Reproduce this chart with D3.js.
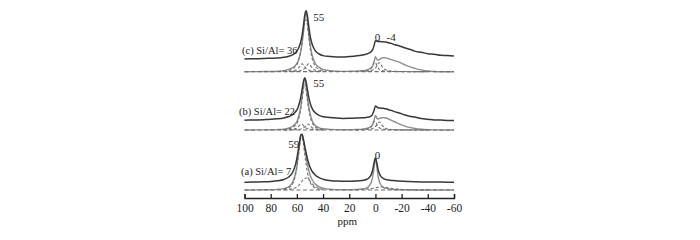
<!DOCTYPE html>
<html>
<head>
<meta charset="utf-8">
<script src="https://cdn.jsdelivr.net/npm/d3@7"></script>
<style>
  html, body { margin: 0; padding: 0; background: #fff; }
  svg { display: block; }
  text { font-family: "Liberation Serif", "DejaVu Serif", serif; fill: #222; }
</style>
</head>
<body>
<div id="chart"></div>
<script>
// ---------- data ----------
const ppm = [100,95,90,85,80,75,70,66,63,61,
             60,59,58,57,56,55,54,53,52,51,
             50,49,48,46,43,40,35,30,25,20,
             15,10,7,5,3,2,1,0,-1,-2,
             -3,-4,-5,-6,-7,-8,-10,-12,-15,-18,
             -22,-26,-30,-35,-40,-45,-50,-55,-60];
const peakGrid = [70,66,63,61,60,59,58,57,56,55,54,53,52,51,50,49,48,46,43,40];
const zeroGrid = [15,10,7,5,3,2,1,0,-1,-2,-3,-4,-5,-6,-7,-8,-10,-12,-15,-18,-22,-26,-30,-35,-40];
const xTicks = [100,80,60,40,20,0,-20,-40,-60];
const xTickLabels = ["100","80","60","40","20","0","-20","-40","-60"];

// (a) Si/Al = 7
const expA = [.31,.39,.52,.71,1.04,1.65,3.0,5.7,10.8,18.1,
              24,31.8,40.6,47.5,48.2,43.2,36.7,30,24,19.3,
              15.5,12.7,10.5,7.5,4.8,3.3,2.0,1.4,1.3,1.35,
              1.5,2.1,3.0,4.6,8.6,13,20,24.6,20.1,13.2,
              8.9,6.3,5.0,4.0,3.4,3.0,2.5,2.1,1.8,1.5,
              1.15,.9,.75,.6,.5,.45,.4,.35,.3];
const fitA = [0,.05,.1,.2,.3,.6,1.4,3.5,8.5,17,
              24,34,45,54,55,49,41,33,26,20,
              15.5,12,9.5,6,3.2,1.8,.8,.4,.3,.3,
              .5,1,2,3.8,8.5,14,23,32,24,14,
              8.5,5.5,3.8,2.7,2,1.6,1,.7,.4,.25,
              .15,.1,.05,0,0,0,0,0,0];
const compA1 = [.8,2.5,7,15,22,32,43,52,53,46,36,26,18,12,8,5.5,4,2.2,1,.5];
const compA2 = [.35,.8,1.4,2.2,2.9,3.9,5.3,7.1,9,10.6,11.5,12,11.7,10.6,9,7.3,5.7,3.5,1.5,.65];
const compA3 = [.41,.66,.92,1.17,1.5,1.7,1.92,2.16,2.4,2.63,2.82,2.95,3,2.95,2.82,2.63,2.16,1.7,1.17,.82,.54,.38,.28,.2,.15];

// (b) Si/Al = 22
const expB = [.53,.65,.81,1.05,1.37,1.9,2.8,4.2,6.3,8.9,
              10.9,13.8,17.9,23.6,31.3,39,42.7,39.2,31.5,23.9,
              18.3,14.2,11.4,8,5.4,4,3.2,2.6,2.3,2.4,
              2.7,2.9,3.3,3.7,5,7,10.5,14.8,13.8,12.9,
              12.6,12.6,12.3,12.4,12.0,11.9,11,10.3,8.8,7.7,
              6.0,4.5,3.6,2.2,1.5,0.7,0.6,0.3,0.3];
const fitB = [0,.05,.1,.15,.25,.4,.8,2,4,6.5,
              8.5,12,17,24,34,45,52,45,34,24,
              17,12,8.5,4.5,2.2,1.2,.6,.35,.25,.3,
              .5,.9,1.5,2.3,4,6,10,14.5,12,11,
              11.5,12,12.3,12.4,12.3,12,11,9.8,8,6.2,
              4.2,2.6,1.5,.7,.3,.1,0,0,0];
const compB1 = [.4,1.2,2.8,4.8,6.5,9.5,14,21,30,40,46,40,30,21,14,9.5,6.5,3.2,1.4,.7];
const compB2 = [.2,.39,.78,1.41,2.03,3,4.4,5.77,5.77,4.4,3,2.03,1.41,1.03,.78,.6,.48,.32,.2,.13];
const compB3 = [.11,.17,.27,.39,.48,.6,.78,1.03,1.41,2.03,3,4.4,5.77,5.77,4.4,3,2.03,1.03,.48,.27];
const compB4 = [.17,.38,.78,1.5,3.5,5.8,8.5,8.5,5.8,3.5,2.2,1.5,1.05,.78,.6,.47,.31,.22,.15,.1,.07,.05,.04,.03,.02];
const compB5 = [.15,.29,.47,.71,1.2,1.6,2.2,3.3,4.9,6.9,8,6.9,4.9,3.3,2.2,1.6,.9,.57,.33,.2,.14,.09,.07,.05,.03];

// (c) Si/Al = 36
const expC = [.4,.6,.5,.8,1.1,1.3,2.0,3.1,4.7,6.7,
              8.2,10.3,13.5,17.8,24.2,33.5,44,48.6,43.8,33.6,
              24.4,18,13.9,8.7,5.3,3.7,2.8,2.3,2.3,2.8,
              3.4,4.3,5.2,6.2,8,10,14,18.6,18.2,17.8,
              17.7,17.9,17.4,17.6,17.3,17.3,16.5,15.9,14.5,13.6,
              11.6,10.1,8.2,7.0,5.6,5.0,4.0,3.8,3.2];
const fitC = [0,.05,.1,.15,.25,.5,1.0,2.5,4.3,6.5,
              8.3,11,15,20.5,28.5,39,52,60,52,39,
              28.5,20.5,15,8.3,4.3,2.3,1.0,.5,.35,.4,
              .6,1.0,1.6,2.6,4.2,6,10,15,12.5,11.5,
              12.2,13,13.6,14,14,13.8,13,12,10.8,9.5,
              7.2,5,3.4,1.8,.7,.2,0,0,0];
const compC1 = [.5,1.4,3,5.2,7,10,14.5,21,30,41,50,52,47,36,25,17,11.5,5.5,2.2,1.0];
const compC2 = [.25,.47,.9,1.6,2.2,3.3,4.9,6.9,8,6.9,4.9,3.3,2.2,1.6,1.2,.9,.71,.47,.29,.19];
const compC3 = [.14,.22,.33,.47,.57,.71,.9,1.2,1.6,2.2,3.3,4.9,6.9,8,6.9,4.9,3.3,1.6,.71,.4];
const compC4 = [.19,.42,.87,1.7,3.9,6.4,9.4,9.4,6.4,3.9,2.4,1.7,1.2,.87,.67,.52,.34,.24,.17,.11,.08,.06,.04,.03,.02];
const compC5 = [.17,.33,.53,.8,1.35,1.8,2.5,3.7,5.5,7.8,9,7.8,5.5,3.7,2.5,1.8,1.0,.64,.37,.23,.16,.1,.08,.06,.03];

const sampleLabels = ["(a) Si/Al= 7", "(b) Si/Al= 22", "(c) Si/Al= 36"];

// ---------- layout ----------
const W = 700, H = 240;
const svg = d3.select("#chart").append("svg").attr("width", W).attr("height", H);
svg.append("rect").attr("width", W).attr("height", H).attr("fill", "#fff");

const x = d3.scaleLinear().domain([100, -60]).range([244.5, 454]);
const y = d3.scaleLinear().domain([0, 200]).range([198, -2]);

const panels = [
  { exp: expA, fit: fitA, comps: [[peakGrid, compA1], [peakGrid, compA2], [zeroGrid, compA3]], expBase: 15.5, fitBase: 8 },
  { exp: expB, fit: fitB, comps: [[peakGrid, compB1], [peakGrid, compB2], [peakGrid, compB3], [zeroGrid, compB4], [zeroGrid, compB5]], expBase: 77.3, fitBase: 68 },
  { exp: expC, fit: fitC, comps: [[peakGrid, compC1], [peakGrid, compC2], [peakGrid, compC3], [zeroGrid, compC4], [zeroGrid, compC5]], expBase: 138.7, fitBase: 126.3 }
];

function lineAt(base) {
  return d3.line()
    .x(d => x(d[0]))
    .y(d => y(d[1] + base))
    .curve(d3.curveMonotoneX);
}
const zip = (xs, vs) => xs.map((p, i) => [p, vs[i]]);

panels.forEach(p => {
  const g = svg.append("g");
  g.append("path").attr("d", lineAt(p.fitBase)(zip(ppm, p.fit)))
    .attr("fill", "none").attr("stroke", "#8e8e8e").attr("stroke-width", 1.4);
  g.append("path").attr("d", lineAt(p.fitBase)([[x.domain()[0], 0], [x.domain()[1], 0]]))
    .attr("fill", "none").attr("stroke", "#6e6e6e").attr("stroke-width", 1.2)
    .attr("stroke-dasharray", "4,2.5");
  p.comps.forEach(c => {
    g.append("path").attr("d", lineAt(p.fitBase)(zip(c[0], c[1])))
      .attr("fill", "none").attr("stroke", "#727272").attr("stroke-width", 1.1)
      .attr("stroke-dasharray", "3,2");
  });
  g.append("path").attr("d", lineAt(p.expBase)(zip(ppm, p.exp)))
    .attr("fill", "none").attr("stroke", "#383838").attr("stroke-width", 1.5);
});

// ---------- axis ----------
const axis = d3.axisBottom(x).tickValues(xTicks).tickSize(-4).tickSizeOuter(-4).tickPadding(6)
  .tickFormat((d, i) => xTickLabels[i]);
const ag = svg.append("g").attr("transform", `translate(0,${y(0)})`).call(axis);
ag.select(".domain").attr("stroke", "#222").attr("stroke-width", 1.4);
ag.selectAll(".tick line").attr("stroke", "#222").attr("stroke-width", 1.3);
ag.selectAll(".tick text").attr("font-size", 11.5).attr("fill", "#222")
  .attr("font-family", "Liberation Serif, serif");

svg.append("text").attr("x", x(20) - 2).attr("y", 225).attr("text-anchor", "middle")
  .attr("font-size", 11).text("ppm");

// ---------- sample labels ----------
const labelY = [175, 115, 54];
const labelX = [241, 239, 242];
sampleLabels.forEach((t, i) => {
  svg.append("text").attr("x", labelX[i]).attr("y", labelY[i]).attr("font-size", 10.5).text(t);
});

// ---------- peak labels ----------
svg.append("text").attr("x", x(58.5) + 0.5).attr("y", 148).attr("text-anchor", "end").attr("font-size", 11).text("59");
svg.append("text").attr("x", x(0) + 2).attr("y", 158.5).attr("text-anchor", "middle").attr("font-size", 11).text("0");
svg.append("text").attr("x", x(47.5)).attr("y", 87).attr("font-size", 11).text("55");
svg.append("text").attr("x", x(47.5)).attr("y", 21).attr("font-size", 11).text("55");
svg.append("text").attr("x", x(0) + 2).attr("y", 40.5).attr("text-anchor", "middle").attr("font-size", 11).text("0");
svg.append("text").attr("x", x(-8.5)).attr("y", 40.5).attr("font-size", 11).text("-4");
</script>
</body>
</html>
